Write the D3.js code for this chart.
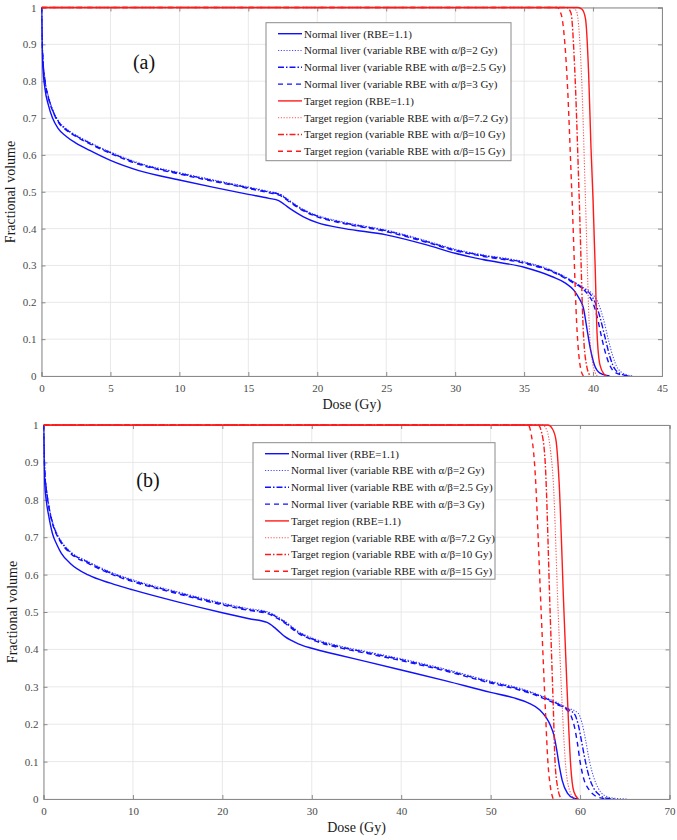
<!DOCTYPE html>
<html><head><meta charset="utf-8">
<script src="https://cdn.jsdelivr.net/npm/d3@7"></script>
<style>body{margin:0;background:#fff}svg{display:block}text{font-family:"Liberation Serif","Times New Roman",serif}</style>
</head><body>
<svg id="c" width="677" height="840"></svg>
<script>
// ---------- DATA (dose Gy, fractional volume) ----------
// Panel (a)
const aTicksX = [0,5,10,15,20,25,30,35,40,45];
const aLiver11 = [[0,1],[0.03,0.92],[0.1,0.84],[0.25,0.78],[0.5,0.735],[0.8,0.7],[1.2,0.672],[1.8,0.65],[2.5,0.632],[3.5,0.612],[5,0.585],[7,0.558],[10,0.532],[12.5,0.512],[15,0.493],[16.5,0.482],[17.2,0.476],[18,0.455],[19,0.432],[20,0.416],[22,0.4],[25,0.383],[28,0.355],[30,0.333],[32,0.316],[35,0.295],[37,0.27],[38,0.252],[38.6,0.233],[39.0,0.21],[39.3,0.185],[39.55,0.13],[39.8,0.075],[40.1,0.03],[40.5,0.008],[41.2,0]];
const aLiverBase = [[0,1],[0.03,0.93],[0.1,0.86],[0.25,0.8],[0.5,0.755],[0.8,0.72],[1.2,0.69],[1.8,0.667],[2.5,0.65],[3.5,0.63],[5,0.604],[7,0.575],[10,0.548],[12.5,0.528],[15,0.509],[16.5,0.497],[17.3,0.49],[18,0.472],[19,0.448],[20,0.432],[22,0.413],[25,0.392],[28,0.362],[30,0.34],[32,0.325],[35,0.306],[37,0.283],[38,0.265],[38.6,0.252],[39.2,0.238]];
const aLiverAB3Tail = [[39.7,0.218],[40.0,0.198],[40.3,0.16],[40.65,0.1],[41.0,0.05],[41.4,0.017],[42.0,0.003],[42.5,0]];
const aLiverAB25Tail = [[39.8,0.222],[40.15,0.2],[40.5,0.16],[40.9,0.1],[41.2,0.055],[41.6,0.018],[42.2,0.003],[42.7,0]];
const aLiverAB2Tail = [[39.9,0.225],[40.35,0.2],[40.75,0.155],[41.1,0.1],[41.4,0.058],[41.8,0.02],[42.4,0.004],[42.9,0]];
const aTarget11 = [[0,1],[38.9,1],[39.2,0.995],[39.45,0.97],[39.68,0.82],[39.85,0.62],[40.0,0.478],[40.15,0.3],[40.29,0.116],[40.5,0.03],[40.8,0.005],[41.0,0]];
const aTargetAB72 = [[0,1],[38.5,1],[38.8,0.99],[39.0,0.93],[39.18,0.8],[39.45,0.478],[39.75,0.116],[40.0,0.03],[40.3,0]];
const aTargetAB10 = [[0,1],[38.1,1],[38.4,0.985],[38.65,0.85],[39.0,0.478],[39.3,0.116],[39.55,0.025],[39.8,0]];
const aTargetAB15 = [[0,1],[37.4,1],[37.7,0.98],[38.1,0.82],[38.48,0.478],[38.85,0.116],[39.1,0.02],[39.3,0]];
// Panel (b)
const bTicksX = [0,10,20,30,40,50,60,70];
const bLiver11 = [[0,1],[0.05,0.92],[0.15,0.84],[0.3,0.8],[0.6,0.755],[1,0.71],[1.5,0.68],[2,0.657],[3,0.63],[5,0.599],[7.5,0.577],[10,0.559],[15,0.527],[20,0.498],[23,0.482],[25,0.472],[26,0.455],[27,0.434],[28.5,0.415],[30,0.403],[33,0.385],[36,0.368],[40,0.345],[45,0.316],[50,0.285],[52.5,0.271],[54.2,0.257],[55.5,0.238],[56.2,0.218],[56.7,0.196],[57.1,0.168],[57.4,0.13],[57.7,0.085],[58.0,0.05],[58.6,0.015],[59.3,0.002],[59.8,0]];
const bLiverBase = [[0,1],[0.05,0.94],[0.15,0.87],[0.3,0.83],[0.6,0.78],[1,0.737],[1.5,0.705],[2,0.684],[3,0.657],[5,0.63],[7.5,0.602],[10,0.581],[15,0.549],[20,0.519],[23,0.504],[25,0.496],[26,0.485],[27,0.47],[28.5,0.443],[30,0.426],[33,0.405],[36,0.39],[40,0.37],[45,0.342],[50,0.31],[52.5,0.296],[54.6,0.281],[56.2,0.266],[57.5,0.252],[58.45,0.24]];
const bLiverAB3Tail = [[59.0,0.222],[59.4,0.19],[59.7,0.15],[60.0,0.1],[60.4,0.055],[61.0,0.025],[61.6,0.01],[62.5,0.002],[63.3,0]];
const bLiverAB25Tail = [[59.4,0.226],[59.8,0.198],[60.2,0.15],[60.6,0.1],[61.0,0.06],[61.5,0.03],[62.2,0.01],[63,0.002],[64,0]];
const bLiverAB2Tail = [[59.8,0.229],[60.2,0.205],[60.6,0.16],[61.06,0.1],[61.5,0.06],[62,0.03],[62.7,0.01],[63.8,0.002],[65.2,0]];
const bTarget11 = [[0,1],[56.4,1],[56.9,0.99],[57.3,0.96],[57.65,0.85],[58.2,0.5],[58.45,0.35],[58.75,0.18],[58.95,0.09],[59.3,0.02],[59.8,0]];
const bTargetAB72 = [[0,1],[55.8,1],[56.3,0.985],[56.7,0.93],[57.0,0.85],[57.55,0.5],[58.0,0.25],[58.35,0.1],[58.8,0.025],[59.4,0]];
const bTargetAB10 = [[0,1],[55.3,1],[55.7,0.98],[56.1,0.9],[56.65,0.5],[57.0,0.25],[57.2,0.1],[57.5,0.03],[57.9,0]];
const bTargetAB15 = [[0,1],[54.2,1],[54.5,0.98],[54.9,0.9],[55.65,0.5],[56.1,0.25],[56.4,0.1],[56.7,0.03],[57.0,0]];

const ticksY = [0,0.1,0.2,0.3,0.4,0.5,0.6,0.7,0.8,0.9,1];
const legendLabels = ["Normal liver (RBE=1.1)","Normal liver (variable RBE with α/β=2 Gy)","Normal liver (variable RBE with α/β=2.5 Gy)","Normal liver (variable RBE with α/β=3 Gy)","Target region (RBE=1.1)","Target region (variable RBE with α/β=7.2 Gy)","Target region (variable RBE with α/β=10 Gy)","Target region (variable RBE with α/β=15 Gy)"];

// ---------- STYLES ----------
const BLUE = "#1010ff", RED = "#ff1a1a";
const DASH = {solid:null, dot:"1.2,1.6", dashdot:"6,2,1.5,2", dash:"5,4"};
const styles = [
  {c:BLUE,d:"solid",o:1},{c:BLUE,d:"dot",o:0.75},{c:BLUE,d:"dashdot",o:1},{c:BLUE,d:"dash",o:1},
  {c:RED,d:"solid",o:1},{c:RED,d:"dot",o:0.75},{c:RED,d:"dashdot",o:1},{c:RED,d:"dash",o:1}
];

function shift(arr, dv){ return arr.map(p=>[p[0], p[1]>=0.99?p[1]:p[1]+dv]); }

const svg = d3.select("#c");
const FONT = "Liberation Serif";

function panel(cfg){
  const x = d3.scaleLinear().domain([0,cfg.xmax]).range([cfg.l,cfg.r]);
  const y = d3.scaleLinear().domain([0,1]).range([cfg.b,cfg.t]);
  const g = svg.append("g");
  g.selectAll(".gx").data(cfg.ticksX).join("line").attr("x1",d=>x(d)).attr("x2",d=>x(d)).attr("y1",cfg.t).attr("y2",cfg.b).attr("stroke","#e8e8e8").attr("stroke-width",1);
  g.selectAll(".gy").data(ticksY).join("line").attr("y1",d=>y(d)).attr("y2",d=>y(d)).attr("x1",cfg.l).attr("x2",cfg.r).attr("stroke","#e8e8e8").attr("stroke-width",1);
  const ax = g.append("g").attr("transform",`translate(0,${cfg.b})`).call(d3.axisBottom(x).tickValues(cfg.ticksX).tickSize(-4).tickPadding(8).tickFormat(d3.format("d")));
  const ay = g.append("g").attr("transform",`translate(${cfg.l},0)`).call(d3.axisLeft(y).tickValues(ticksY).tickSize(-4).tickPadding(5).tickFormat(d=>d===0||d===1?String(d):d3.format(".1f")(d)));
  const axT = g.append("g").attr("transform",`translate(0,${cfg.t})`).call(d3.axisTop(x).tickValues(cfg.ticksX).tickSize(-4).tickFormat(""));
  const ayR = g.append("g").attr("transform",`translate(${cfg.r},0)`).call(d3.axisRight(y).tickValues(ticksY).tickSize(-4).tickFormat(""));
  [ax,ay,axT,ayR].forEach(a=>{a.attr("font-family",FONT);a.select(".domain").attr("stroke","#8a8a8a");a.selectAll(".tick line").attr("stroke","#8a8a8a");
    a.selectAll("text").attr("font-family",FONT).attr("font-size","11px").attr("fill","#4a4a4a");});
  const line = d3.line().x(d=>x(d[0])).y(d=>y(d[1])).curve(d3.curveMonotoneX);
  const clipId = "clip"+cfg.id;
  svg.append("clipPath").attr("id",clipId).append("rect").attr("x",cfg.l).attr("y",cfg.t-2).attr("width",cfg.r-cfg.l).attr("height",cfg.b-cfg.t+2);
  const sg = g.append("g").attr("clip-path",`url(#${clipId})`);
  cfg.series.forEach((s,i)=>{
    const st = styles[i];
    sg.append("path").datum(s).attr("d",line).attr("fill","none").attr("stroke",st.c).attr("stroke-opacity",st.o)
      .attr("stroke-width",st.d==="dot"?1.1:1.4).attr("stroke-dasharray",DASH[st.d]);
  });
  const L = cfg.leg;
  const lg = g.append("g");
  lg.append("rect").attr("x",L.x).attr("y",L.y).attr("width",L.w).attr("height",L.h).attr("fill","#fff").attr("stroke","#8a8a8a").attr("stroke-width",1);
  legendLabels.forEach((lab,i)=>{
    const yy = L.y + 11 + i*16.8;
    const st = styles[i];
    lg.append("line").attr("x1",L.x+12).attr("x2",L.x+36).attr("y1",yy).attr("y2",yy).attr("stroke",st.c).attr("stroke-opacity",st.o)
      .attr("stroke-width",st.d==="dot"?1.1:1.4).attr("stroke-dasharray",DASH[st.d]);
    lg.append("text").attr("x",L.x+38).attr("y",yy).attr("dy","0.35em").attr("font-family",FONT).attr("font-size","11px").attr("fill","#1a1a1a").text(lab);
  });
  g.append("text").attr("x",cfg.lab[0]).attr("y",cfg.lab[1]).attr("dy","0.35em").attr("text-anchor","middle").attr("font-family",FONT).attr("font-size","20px").attr("fill","#111").text(cfg.name);
  g.append("text").attr("x",(cfg.l+cfg.r)/2).attr("y",cfg.b+28).attr("dy","0.35em").attr("text-anchor","middle").attr("font-family",FONT).attr("font-size","14px").attr("fill","#1a1a1a").text("Dose (Gy)");
  g.append("text").attr("transform",`translate(${cfg.yl[0]},${cfg.yl[1]}) rotate(-90)`).attr("dy","0.35em").attr("text-anchor","middle").attr("font-family",FONT).attr("font-size","14px").attr("fill","#1a1a1a").text("Fractional volume");
}

panel({id:"a", name:"(a)", xmax:45, ticksX:aTicksX, l:41.5, r:662, t:7.5, b:376,
  series:[aLiver11, shift(aLiverBase,0.004).concat(aLiverAB2Tail), shift(aLiverBase,0.002).concat(aLiverAB25Tail), aLiverBase.concat(aLiverAB3Tail),
          aTarget11, aTargetAB72, aTargetAB10, aTargetAB15],
  leg:{x:266,y:22.7,w:245,h:138}, lab:[144,62], yl:[10,192]});

panel({id:"b", name:"(b)", xmax:70, ticksX:bTicksX, l:43.5, r:669.5, t:425, b:799,
  series:[bLiver11, shift(bLiverBase,0.005).concat(bLiverAB2Tail), shift(bLiverBase,0.0025).concat(bLiverAB25Tail), bLiverBase.concat(bLiverAB3Tail),
          bTarget11, bTargetAB72, bTargetAB10, bTargetAB15],
  leg:{x:253,y:442.7,w:242,h:136.5}, lab:[148,480], yl:[12,612]});
</script>
</body></html>
